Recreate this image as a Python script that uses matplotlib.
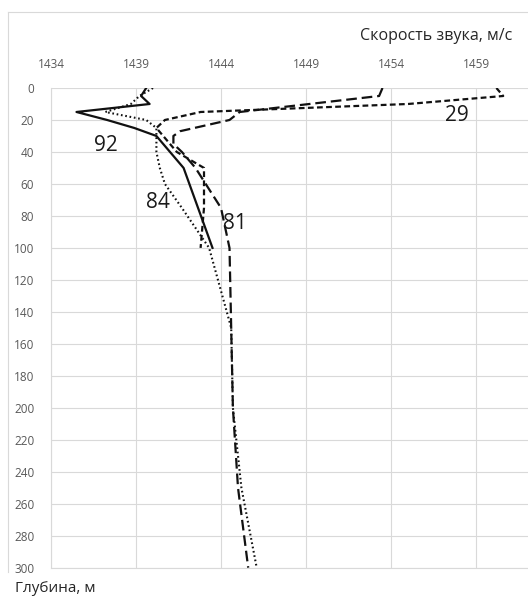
import matplotlib
matplotlib.use("Agg")
from matplotlib import pyplot as plt
from matplotlib.lines import Line2D
import numpy as np

plt.rcParams['font.family'] = ['Open Sans', 'DejaVu Sans']

# sound speed profiles (m/s) vs depth (m) for stations 92, 84, 81, 29
depth92 = [0, 5, 10, 15, 20, 25, 30, 50, 100]
speed92 = [1439.6, 1439.3, 1439.8, 1435.5, 1437.3, 1438.9, 1440.2, 1441.8, 1443.5]

depth84 = [0, 5, 10, 15, 20, 25, 40, 50, 60, 75, 100, 150, 200, 250, 300]
speed84 = [1440.0, 1439.2, 1438.7, 1437.2, 1439.6, 1440.2, 1440.2, 1440.4, 1440.7,
           1441.7, 1443.3, 1444.6, 1444.7, 1445.2, 1446.1]

depth81 = [0, 5, 15, 20, 27, 30, 35, 40, 50, 75, 100, 150, 200, 250, 300]
speed81 = [1453.5, 1453.3, 1445.1, 1444.5, 1441.6, 1441.2, 1441.2, 1441.7, 1442.5,
           1444.0, 1444.5, 1444.6, 1444.7, 1445.0, 1445.6]

depth29 = [0, 5, 10, 15, 20, 25, 30, 40, 50, 75, 100]
speed29 = [1460.2, 1460.6, 1455.0, 1442.8, 1440.7, 1440.2, 1440.6, 1441.4, 1443.0,
           1443.0, 1442.8]

station_labels = ["92", "84", "81", "29"]
label_x = [1437.2, 1440.3, 1444.8, 1457.9]
label_depth = [36, 71.5, 84.5, 17.4]

xticks = [1434, 1439, 1444, 1449, 1454, 1459]
yticks = list(range(0, 301, 20))

W, H = 528, 597
fig = plt.figure(figsize=(W / 100, H / 100), dpi=100)
ax = fig.add_axes([51 / W, 1 - 567.7 / H, (W - 51) / W, (567.7 - 88) / H])

ax.plot(speed92, depth92, color="#111111", lw=1.6, ls="-")
ax.plot(speed84, depth84, color="#111111", lw=1.5, ls=(0, (0.8, 1.3)))
ax.plot(speed81, depth81, color="#111111", lw=1.6, ls=(0, (4.8, 2.2)))
ax.plot(speed29, depth29, color="#111111", lw=1.6, ls=(0, (2.6, 1.5)))

for txt, x, d in zip(station_labels, label_x, label_depth):
    ax.text(x, d, txt, fontsize=15, color="#1a1a1a", ha="center", va="center")

ax.set_xlim(1434, 1434 + (W - 51) / 17.0)
ax.set_ylim(300, 0)
ax.set_xticks(xticks)
ax.set_yticks(yticks)
ax.xaxis.tick_top()
ax.tick_params(axis="both", length=0, labelsize=8.5, labelcolor="#595959")
ax.tick_params(axis="x", pad=12)
ax.tick_params(axis="y", pad=12)
ax.grid(True, color="#d9d9d9", lw=0.8)
ax.set_axisbelow(True)
for side in ["right", "top"]:
    ax.spines[side].set_visible(False)
for side in ["left", "bottom"]:
    ax.spines[side].set_color("#d9d9d9")
    ax.spines[side].set_linewidth(0.8)

fig.text(512 / W, 1 - 36 / H, "Скорость звука, м/с", fontsize=11.5,
         color="#262626", ha="right", va="center")
fig.text(15 / W, 1 - 589 / H, "Глубина, м", fontsize=11,
         color="#262626", ha="left", va="center")

# chart area frame
fig.add_artist(Line2D([8 / W, 8 / W], [1 - 572 / H, 1 - 12 / H], color="#d9d9d9", lw=0.8))
fig.add_artist(Line2D([8 / W, 1], [1 - 12 / H, 1 - 12 / H], color="#d9d9d9", lw=0.8))

fig.savefig("out.png", dpi=100)
